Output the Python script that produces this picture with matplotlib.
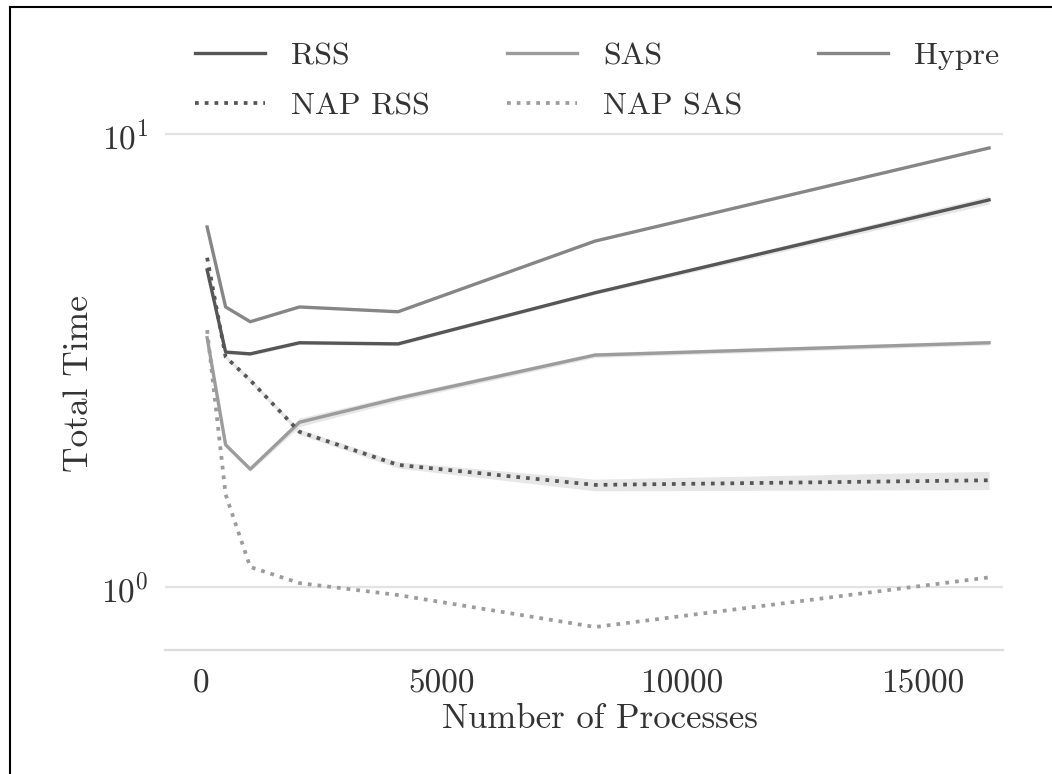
import matplotlib
matplotlib.use("Agg")
import matplotlib.pyplot as plt
from matplotlib.lines import Line2D
import numpy as np

# ---- data ----
procs = [128, 512, 1024, 2048, 4096, 8192, 16384]
rss = [5.01, 3.30, 3.27, 3.46, 3.44, 4.46, 7.15]
sas = [3.55, 2.06, 1.82, 2.31, 2.61, 3.25, 3.46]
hypre = [6.23, 4.15, 3.85, 4.15, 4.05, 5.80, 9.31]
nap_rss = [5.33, 3.22, 2.86, 2.20, 1.86, 1.68, 1.72]
nap_sas = [3.69, 1.60, 1.107, 1.02, 0.96, 0.816, 1.05]

# confidence bands (low / high)
rss_lo = [4.95, 3.27, 3.24, 3.43, 3.41, 4.42, 7.00]
rss_hi = [5.07, 3.33, 3.30, 3.49, 3.47, 4.50, 7.30]
sas_lo = [3.52, 2.04, 1.80, 2.26, 2.57, 3.21, 3.42]
sas_hi = [3.58, 2.08, 1.84, 2.36, 2.65, 3.29, 3.50]
nap_rss_lo = [5.28, 3.19, 2.83, 2.17, 1.83, 1.63, 1.64]
nap_rss_hi = [5.38, 3.25, 2.89, 2.23, 1.89, 1.73, 1.80]

labels = ["RSS", "SAS", "Hypre", "NAP RSS", "NAP SAS"]
xticks = [0, 5000, 10000, 15000]

plt.rcParams["font.family"] = "serif"
plt.rcParams["font.serif"] = ["cmr10", "DejaVu Serif"]
plt.rcParams["mathtext.fontset"] = "cm"
plt.rcParams["axes.formatter.use_mathtext"] = True

W, H = 1052, 774
fig = plt.figure(figsize=(W / 100, H / 100), dpi=100)
ax = fig.add_axes([165 / W, 1 - 650 / H, (1003 - 165) / W, (650 - 15) / H])

c_rss = "#565656"
c_sas = "#9c9c9c"
c_hyp = "#868686"
band = "#d8d8d8"
lw = 2.4
dots = (0, (1, 1.6))

ax.fill_between(procs, rss_lo, rss_hi, color=band, alpha=0.6, lw=0)
ax.fill_between(procs, sas_lo, sas_hi, color=band, alpha=0.6, lw=0)
ax.fill_between(procs, nap_rss_lo, nap_rss_hi, color=band, alpha=0.6, lw=0)

l1, = ax.plot(procs, rss, color=c_rss, lw=lw, label=labels[0])
l2, = ax.plot(procs, sas, color=c_sas, lw=lw, label=labels[1])
l3, = ax.plot(procs, hypre, color=c_hyp, lw=lw, label=labels[2])
l4, = ax.plot(procs, nap_rss, color=c_rss, lw=2.7, ls=dots, label=labels[3])
l5, = ax.plot(procs, nap_sas, color=c_sas, lw=2.7, ls=dots, label=labels[4])

ax.set_yscale("log")
ax.set_ylim(0.726, 18.3)
ax.set_xlim(-748, 16674)
ax.set_xticks(xticks)
ax.set_xticklabels([str(t) for t in xticks])
ax.set_yticks([1, 10])
ax.yaxis.set_minor_locator(matplotlib.ticker.NullLocator())

ax.grid(axis="y", which="major", color="#e3e3e3", lw=1.6)
ax.set_axisbelow(True)
for s in ["top", "right", "left"]:
    ax.spines[s].set_visible(False)
ax.spines["bottom"].set_color("#dcdcdc")
ax.spines["bottom"].set_linewidth(1.6)
ax.tick_params(axis="both", length=0, labelsize=24, colors="#333333", pad=14)
ax.tick_params(axis="y", pad=12)

ax.set_xlabel("Number of Processes", fontsize=25, color="#333333")
ax.xaxis.set_label_coords((600 - 165) / 838, (650 - 703) / 635)
ax.set_ylabel("Total Time", fontsize=25.5, color="#333333")
ax.yaxis.set_label_coords((95 - 165) / 838, (650 - 384) / 635)

# legend: three columns placed at the reference positions, row-wise order
cols = [([l1, l4], [labels[0], labels[3]], 195),
        ([l2, l5], [labels[1], labels[4]], 507),
        ([l3], [labels[2]], 818)]
for hs, ls_, x0 in cols:
    lg = fig.legend(handles=hs, labels=ls_, loc="upper left", frameon=False,
                    bbox_to_anchor=(x0 / W, 1 - 42 / H), fontsize=23,
                    handlelength=2.2, handletextpad=0.8, labelspacing=0.68,
                    borderaxespad=0, borderpad=0)
    for t in lg.get_texts():
        t.set_color("#333333")

# partial frame border (left and top)
fig.add_artist(Line2D([10 / W, 10 / W], [0, 1 - 7 / H], color="black", lw=1.5,
                      transform=fig.transFigure))
fig.add_artist(Line2D([10 / W, 1], [1 - 7 / H, 1 - 7 / H], color="black", lw=1.5,
                      transform=fig.transFigure))

fig.savefig("out.png", dpi=100)
